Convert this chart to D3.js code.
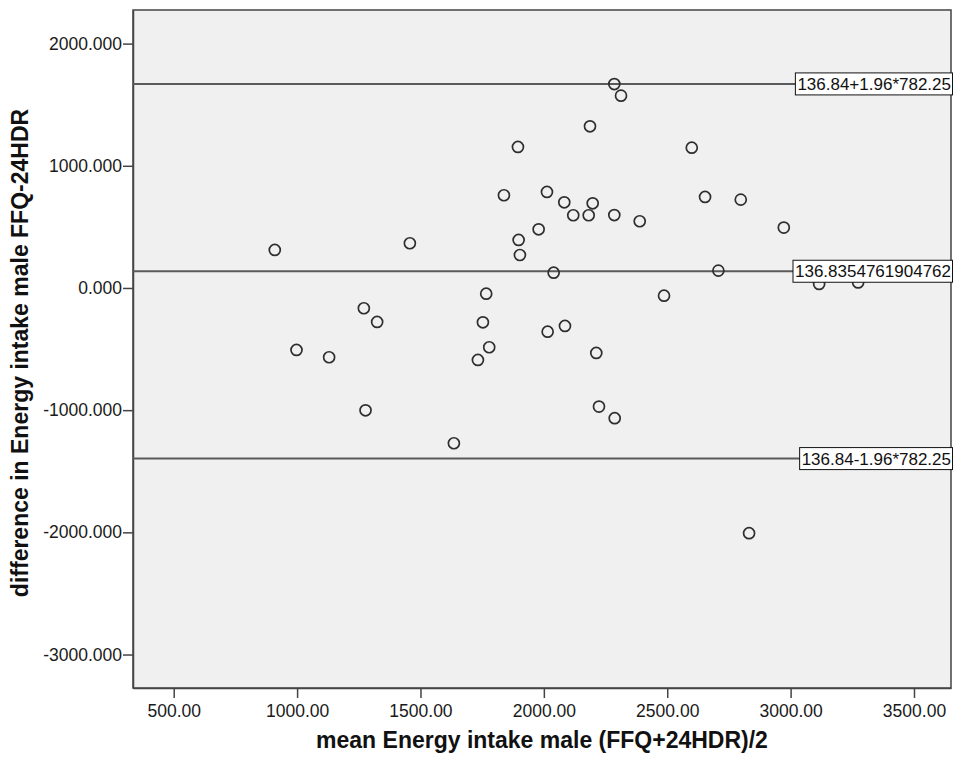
<!DOCTYPE html>
<html>
<head>
<meta charset="utf-8">
<script src="https://cdn.jsdelivr.net/npm/d3@7"></script>
<style>
  html, body { margin: 0; padding: 0; background: #ffffff; }
  svg { display: block; }
  text { font-family: "Liberation Sans", Arial, sans-serif; }
</style>
</head>
<body>
<svg id="chart" width="953" height="770"></svg>
<script>
// ---- data ----
const meanIntake = [909.6, 997.6, 1129.8, 1270.5, 1277.4, 1324.4, 1457.0, 1635.4, 1732.8, 1753.0,
  1766.4, 1778.6, 1838.2, 1895.0, 1897.8, 1903.0, 1978.9, 2012.6, 2015.4, 2039.7,
  2082.8, 2085.6, 2119.2, 2181.7, 2187.0, 2197.9, 2212.5, 2223.4, 2285.5, 2285.5,
  2287.1, 2312.7, 2388.5, 2487.0, 2599.4, 2653.3, 2707.3, 2798.0, 2831.7, 2972.4,
  3115.6, 3273.7];
const diffIntake = [311, -507, -567, -166, -1001, -278, 366, -1271, -589, -281,
  -47, -485, 759, 1154, 393, 270, 480, 786, -358, 125,
  701, -311, 595, 595, 1323, 693, -532, -971, 1669, 597,
  -1066, 1574, 546, -63, 1148, 745, 142, 723, -2007, 494,
  33, 45];
const refValues = [136.84 + 1.96 * 782.25, 136.8354761904762, 136.84 - 1.96 * 782.25];
const refLabels = ["136.84+1.96*782.25", "136.8354761904762", "136.84-1.96*782.25"];
const xTicks = [500, 1000, 1500, 2000, 2500, 3000, 3500];
const yTicks = [-3000, -2000, -1000, 0, 1000, 2000];
const xTitle = "mean Energy intake male (FFQ+24HDR)/2";
const yTitle = "difference in Energy intake male FFQ-24HDR";

// ---- layout ----
const L = 133, R = 951, T = 10, B = 688;
const svg = d3.select("#chart");
const x = d3.scaleLinear().domain([335, 3650]).range([L, R]);
const y = d3.scaleLinear().domain([-3274, 2275]).range([B, T]);
const fmtX = v => d3.format(".2f")(v).replace("\u2212", "-");
const fmtY = v => d3.format(".3f")(v).replace("\u2212", "-");

// plot background
svg.append("rect").attr("x", L).attr("y", T).attr("width", R - L).attr("height", B - T)
  .attr("fill", "#f0f0f0").attr("stroke", "#444").attr("stroke-width", 1.5);

// axes
const xAxis = svg.append("g").attr("transform", `translate(0,${B})`)
  .call(d3.axisBottom(x).tickValues(xTicks).tickFormat(fmtX).tickSizeInner(10).tickSizeOuter(0).tickPadding(4));
const yAxis = svg.append("g").attr("transform", `translate(${L},0)`)
  .call(d3.axisLeft(y).tickValues(yTicks).tickFormat(fmtY).tickSizeInner(10).tickSizeOuter(0).tickPadding(1));
[xAxis, yAxis].forEach(g => {
  g.select(".domain").attr("stroke", "#444").attr("stroke-width", 1.5);
  g.selectAll(".tick line").attr("stroke", "#444").attr("stroke-width", 1.5);
  g.selectAll(".tick text").attr("fill", "#1a1a1a").style("font-size", "17.5px")
    .style("font-family", "'Liberation Sans', Arial, sans-serif");
});
xAxis.selectAll(".tick text").attr("dy", "0.85em");

// reference lines
const refG = svg.append("g");
refValues.forEach((v, i) => {
  refG.append("line").attr("x1", L).attr("x2", R).attr("y1", y(v)).attr("y2", y(v))
    .attr("stroke", "#5a5a5a").attr("stroke-width", 2);
});

// points
svg.append("g").selectAll("circle").data(meanIntake.map((m, i) => [m, diffIntake[i]]))
  .join("circle")
  .attr("cx", d => x(d[0])).attr("cy", d => y(d[1])).attr("r", 5.5)
  .attr("fill", "none").attr("stroke", "#2e2e2e").attr("stroke-width", 1.7);

// reference labels
refValues.forEach((v, i) => {
  const g = svg.append("g");
  const box = g.append("rect");
  const t = g.append("text").attr("x", 951).attr("y", y(v)).attr("dy", "0.36em")
    .attr("text-anchor", "end").style("font-size", "17px").attr("fill", "#111").text(refLabels[i]);
  const bb = t.node().getBBox();
  box.attr("x", bb.x - 2).attr("y", y(v) - 11).attr("width", 952.5 - (bb.x - 2)).attr("height", 22)
    .attr("fill", "#fff").attr("stroke", "#111").attr("stroke-width", 1);
});

// titles
svg.append("text").attr("x", (L + R) / 2).attr("y", 748).attr("text-anchor", "middle")
  .style("font-size", "23px").style("font-weight", "bold").attr("fill", "#111").text(xTitle);
svg.append("text").attr("transform", `translate(28,${(T + B) / 2 + 4}) rotate(-90)`)
  .attr("text-anchor", "middle")
  .style("font-size", "23px").style("font-weight", "bold").attr("fill", "#111").text(yTitle);
</script>
</body>
</html>
